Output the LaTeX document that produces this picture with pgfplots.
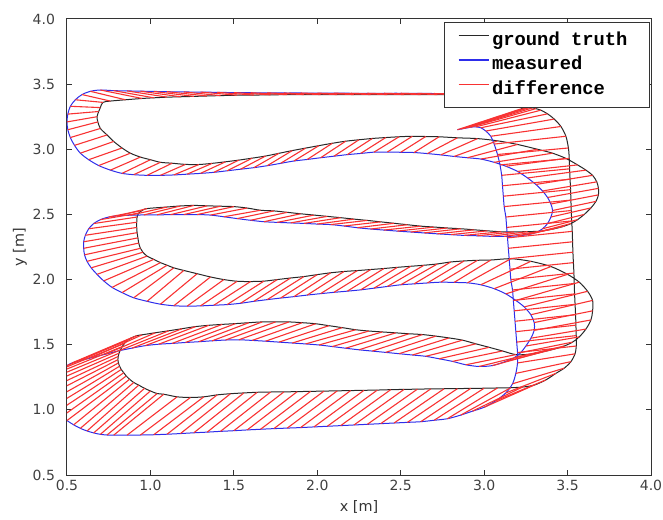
\documentclass[border=0pt]{standalone}
\usepackage{pgfplots}
\pgfplotsset{compat=1.18}
\usepackage{pgfplotstable}
\usepackage{fontspec}
\setmainfont{DejaVu Sans}
\newfontfamily\legfont{Liberation Mono}
\definecolor{gtcol}{RGB}{40,40,40}
\definecolor{mscol}{RGB}{45,45,235}
\definecolor{dfcol}{RGB}{248,50,50}
\begin{document}
\pgfplotstableread{
mx my gx gy
2.84 3.150 3.22 3.310
2.86 3.155 3.25 3.318
2.88 3.160 3.27 3.320
2.90 3.165 3.29 3.318
2.92 3.170 3.31 3.312
2.95 3.172 3.34 3.300
2.98 3.165 3.38 3.272
3.01 3.140 3.42 3.232
3.04 3.100 3.46 3.175
3.06 3.040 3.49 3.100
3.080 2.96 3.505 3.010
3.095 2.88 3.510 2.930
3.105 2.80 3.512 2.850
3.110 2.72 3.515 2.770
3.115 2.64 3.518 2.690
3.120 2.56 3.520 2.610
3.130 2.48 3.522 2.530
3.135 2.40 3.525 2.450
3.140 2.32 3.528 2.370
3.145 2.24 3.530 2.290
3.150 2.16 3.532 2.210
3.155 2.08 3.535 2.130
3.160 2.00 3.538 2.050
3.170 1.92 3.540 1.970
3.175 1.84 3.542 1.890
3.180 1.76 3.545 1.810
3.185 1.68 3.548 1.730
3.190 1.60 3.550 1.650
3.195 1.52 3.552 1.570
3.200 1.44 3.552 1.490
3.200 1.36 3.545 1.430
3.190 1.28 3.520 1.370
3.170 1.20 3.480 1.320
3.130 1.13 3.430 1.280
3.070 1.07 3.370 1.230
3.000 1.02 3.300 1.190
2.930 0.99 3.230 1.175
2.860 0.96 3.160 1.170
2.78 0.932 3.08 1.168
2.70 0.920 3.00 1.166
2.62 0.909 2.92 1.165
2.54 0.904 2.84 1.163
2.46 0.899 2.76 1.162
2.38 0.894 2.68 1.161
2.30 0.889 2.60 1.159
2.22 0.884 2.52 1.157
2.14 0.879 2.44 1.155
2.06 0.874 2.36 1.152
1.98 0.869 2.28 1.150
1.90 0.864 2.20 1.148
1.82 0.860 2.12 1.146
1.74 0.856 2.04 1.144
1.66 0.851 1.96 1.142
1.58 0.846 1.88 1.140
1.50 0.840 1.80 1.138
1.42 0.835 1.72 1.137
1.34 0.829 1.64 1.135
1.26 0.824 1.56 1.130
1.18 0.818 1.48 1.124
1.10 0.813 1.40 1.115
1.02 0.809 1.32 1.100
0.94 0.807 1.24 1.095
0.86 0.806 1.16 1.100
0.78 0.806 1.08 1.120
0.74 0.807 1.040 1.125
0.70 0.812 1.000 1.145
0.66 0.823 0.965 1.165
0.62 0.838 0.930 1.190
0.58 0.858 0.900 1.210
0.54 0.885 0.875 1.235
0.50 0.918 0.855 1.260
0.47 0.950 0.840 1.285
0.445 0.990 0.825 1.310
0.425 1.030 0.815 1.335
0.41 1.075 0.808 1.360
0.40 1.120 0.805 1.385
0.40 1.165 0.807 1.410
0.41 1.210 0.812 1.435
0.425 1.250 0.820 1.460
0.445 1.285 0.830 1.485
0.47 1.315 0.845 1.510
0.50 1.340 0.865 1.535
0.53 1.360 0.890 1.555
0.57 1.375 0.920 1.570
0.65 1.401 0.95 1.576
0.73 1.427 1.03 1.592
0.81 1.453 1.11 1.607
0.89 1.474 1.19 1.623
0.97 1.493 1.27 1.639
1.05 1.504 1.35 1.649
1.13 1.510 1.43 1.656
1.21 1.517 1.51 1.662
1.29 1.523 1.59 1.669
1.37 1.530 1.67 1.675
1.45 1.536 1.75 1.675
1.53 1.538 1.83 1.675
1.61 1.533 1.91 1.669
1.69 1.527 1.99 1.661
1.77 1.520 2.07 1.646
1.85 1.513 2.15 1.631
1.93 1.506 2.23 1.615
2.01 1.498 2.31 1.605
2.09 1.486 2.39 1.598
2.17 1.473 2.47 1.591
2.25 1.461 2.55 1.584
2.33 1.451 2.63 1.578
2.41 1.441 2.71 1.566
2.49 1.431 2.79 1.552
2.57 1.421 2.87 1.535
2.65 1.411 2.95 1.507
2.73 1.392 3.03 1.480
2.81 1.372 3.11 1.452
2.89 1.346 3.19 1.424
2.97 1.333 3.27 1.427
3.05 1.340 3.35 1.445
3.13 1.372 3.43 1.470
3.18 1.40 3.48 1.49
3.22 1.44 3.53 1.52
3.25 1.49 3.57 1.56
3.28 1.55 3.61 1.62
3.30 1.61 3.64 1.69
3.30 1.67 3.65 1.76
3.28 1.73 3.65 1.84
3.24 1.79 3.62 1.91
3.19 1.84 3.57 1.98
3.13 1.89 3.50 2.04
3.06 1.93 3.40 2.10
2.98 1.96 3.28 2.14
2.90 1.975 3.16 2.16
2.82 1.978 3.04 2.150
2.74 1.980 2.96 2.148
2.66 1.974 2.88 2.143
2.58 1.967 2.80 2.135
2.50 1.960 2.72 2.120
2.42 1.947 2.64 2.110
2.34 1.934 2.56 2.102
2.26 1.921 2.48 2.094
2.18 1.911 2.40 2.085
2.10 1.902 2.32 2.077
2.02 1.892 2.24 2.069
1.94 1.881 2.16 2.062
1.86 1.869 2.08 2.052
1.78 1.858 2.00 2.038
1.70 1.846 1.92 2.023
1.62 1.833 1.84 2.012
1.54 1.818 1.76 2.000
1.46 1.808 1.68 1.988
1.38 1.803 1.60 1.985
1.30 1.798 1.52 1.987
1.22 1.796 1.44 2.000
1.14 1.799 1.36 2.020
1.06 1.811 1.28 2.045
0.98 1.833 1.20 2.070
0.90 1.86 1.14 2.090
0.83 1.90 1.10 2.110
0.77 1.94 1.06 2.130
0.72 1.99 1.02 2.155
0.68 2.04 0.98 2.180
0.645 2.09 0.955 2.210
0.62 2.14 0.94 2.240
0.605 2.19 0.93 2.280
0.60 2.24 0.925 2.320
0.60 2.29 0.92 2.360
0.61 2.34 0.918 2.400
0.63 2.39 0.918 2.440
0.66 2.43 0.92 2.480
0.70 2.46 0.93 2.510
0.75 2.48 0.95 2.530
0.81 2.49 0.98 2.545
0.88 2.494 1.10 2.557
0.96 2.496 1.18 2.565
1.04 2.497 1.26 2.569
1.12 2.498 1.34 2.566
1.20 2.499 1.42 2.563
1.28 2.499 1.50 2.560
1.36 2.495 1.58 2.549
1.44 2.482 1.66 2.532
1.52 2.468 1.74 2.527
1.60 2.455 1.82 2.516
1.68 2.444 1.90 2.505
1.76 2.439 1.98 2.495
1.84 2.435 2.06 2.485
1.92 2.431 2.14 2.475
2.00 2.426 2.22 2.464
2.08 2.422 2.30 2.454
2.16 2.411 2.38 2.443
2.24 2.398 2.46 2.432
2.32 2.388 2.54 2.421
2.40 2.380 2.62 2.410
2.48 2.372 2.70 2.403
2.56 2.365 2.78 2.396
2.64 2.358 2.86 2.390
2.72 2.351 2.94 2.382
2.80 2.345 3.02 2.374
2.88 2.339 3.10 2.367
2.96 2.336 3.18 2.366
3.04 2.332 3.26 2.368
3.12 2.331 3.34 2.372
3.20 2.335 3.42 2.390
3.26 2.345 3.48 2.410
3.31 2.36 3.52 2.43
3.35 2.39 3.56 2.46
3.38 2.43 3.60 2.50
3.40 2.48 3.64 2.55
3.41 2.53 3.67 2.60
3.40 2.58 3.685 2.65
3.38 2.63 3.685 2.70
3.35 2.68 3.675 2.75
3.31 2.73 3.65 2.80
3.26 2.78 3.61 2.84
3.20 2.83 3.56 2.88
3.13 2.87 3.49 2.93
3.06 2.90 3.41 2.97
2.98 2.925 3.32 3.00
2.90 2.935 3.20 3.037
2.82 2.945 3.08 3.065
2.74 2.957 2.96 3.082
2.66 2.967 2.84 3.088
2.58 2.975 2.73 3.096
2.50 2.977 2.65 3.098
2.42 2.979 2.57 3.100
2.34 2.978 2.49 3.096
2.26 2.968 2.41 3.090
2.18 2.959 2.33 3.083
2.10 2.947 2.25 3.073
2.02 2.935 2.17 3.062
1.94 2.922 2.09 3.046
1.86 2.910 2.01 3.028
1.78 2.892 1.93 3.009
1.70 2.874 1.85 2.990
1.62 2.859 1.77 2.969
1.54 2.847 1.69 2.948
1.46 2.835 1.61 2.932
1.38 2.823 1.53 2.917
1.30 2.815 1.45 2.904
1.22 2.809 1.37 2.892
1.14 2.803 1.29 2.883
1.06 2.800 1.21 2.884
0.98 2.800 1.13 2.893
0.90 2.805 1.06 2.90
0.83 2.815 1.00 2.92
0.76 2.840 0.94 2.94
0.69 2.875 0.88 2.97
0.63 2.920 0.83 3.01
0.58 2.970 0.78 3.06
0.545 3.030 0.74 3.11
0.52 3.090 0.70 3.16
0.505 3.150 0.685 3.21
0.50 3.210 0.68 3.25
0.505 3.270 0.69 3.29
0.52 3.330 0.70 3.32
0.55 3.380 0.715 3.36
0.59 3.420 0.76 3.37
0.64 3.445 0.85 3.38
0.70 3.455 0.95 3.39
0.78 3.450 1.02 3.395
0.86 3.448 1.10 3.400
0.94 3.446 1.18 3.403
1.02 3.444 1.26 3.406
1.10 3.442 1.34 3.409
1.20 3.440 1.42 3.412
1.30 3.439 1.52 3.415
1.40 3.437 1.62 3.416
1.50 3.435 1.72 3.418
1.60 3.434 1.82 3.419
1.70 3.433 1.92 3.420
1.80 3.432 2.02 3.420
1.90 3.432 2.12 3.420
2.00 3.431 2.22 3.420
2.10 3.431 2.32 3.420
2.20 3.430 2.42 3.420
2.30 3.430 2.52 3.420
2.40 3.430 2.62 3.420
2.50 3.430 2.72 3.420
2.60 3.429 2.82 3.420
2.70 3.428 2.92 3.420
2.80 3.427 3.02 3.420
2.90 3.426 3.12 3.420
3.00 3.426 3.22 3.420
3.10 3.425 3.30 3.420
}\traj
\begin{tikzpicture}
\useasboundingbox (-33.5pt,-22pt) rectangle (298pt,237.5pt);
\begin{axis}[
  at={(0pt,0pt)}, anchor=south west,
  scale only axis, width=292pt, height=228pt,
  xmin=0.5, xmax=4.0, ymin=0.5, ymax=4.0,
  xtick={0.5,1.0,1.5,2.0,2.5,3.0,3.5,4.0},
  ytick={0.5,1.0,1.5,2.0,2.5,3.0,3.5,4.0},
  /pgf/number format/fixed, /pgf/number format/fixed zerofill,
  /pgf/number format/precision=1, /pgf/number format/assume math mode=true,
  tick align=inside, major tick length=2.5pt,
  tick style={black!80, line width=0.5pt},
  axis line style={black!80, line width=0.5pt},
  ticklabel style={font=\fontsize{7}{8}\selectfont, text=black!75},
  xticklabel style={yshift=1pt},
  yticklabel style={xshift=-2.5pt},
  xlabel={x [m]}, ylabel={y [m]},
  label style={font=\fontsize{7.2}{8}\selectfont, text=black!80},
  xlabel style={at={(axis description cs:0.5,-0.0702)}, anchor=center},
  ylabel style={at={(axis description cs:-0.0805,0.5)}, anchor=center},
  legend style={at={(1,1)}, anchor=north east, xshift=-0.5pt, yshift=-1.5pt,
    draw=black!80, line width=0.5pt, fill=white,
    font=\legfont\bfseries\fontsize{9.4}{11}\selectfont,
    inner xsep=11pt, inner ysep=4.5pt, row sep=3.25pt, column sep=1.5pt,
    nodes={inner sep=0pt, text height=7pt, text depth=2pt}},
  legend cell align=left,
  legend image code/.code={\draw[#1] (0pt,2.5pt) -- (10.5pt,2.5pt);
    \draw[#1, overlay] (-4.5pt,2.5pt) -- (0.2pt,2.5pt);},
]
\addplot[gtcol, line width=0.5pt, line join=round, smooth, forget plot] table[x=gx,y=gy]{\traj};
\addplot[mscol, line width=0.5pt, line join=round, smooth, forget plot] table[x=mx,y=my]{\traj};
\addplot[dfcol, line width=0.55pt, forget plot,
  quiver={u=\thisrow{gx}-\thisrow{mx}, v=\thisrow{gy}-\thisrow{my}}] table[x=mx,y=my]{\traj};
\addlegendimage{gtcol, line width=0.6pt}
\addlegendentry{ground truth}
\addlegendimage{mscol, line width=0.6pt}
\addlegendentry{measured}
\addlegendimage{dfcol, line width=0.6pt}
\addlegendentry{difference}
\end{axis}
\end{tikzpicture}
\end{document}
